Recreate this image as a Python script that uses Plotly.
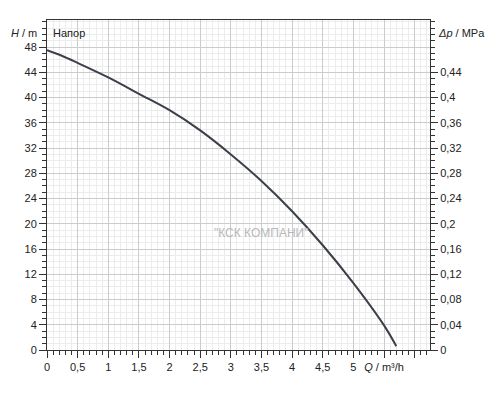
import plotly.graph_objects as go

q = [0, 0.25, 0.5, 1.0, 1.5, 2.0, 2.5, 3.0, 3.5, 4.0, 4.5, 5.0, 5.5, 5.7]
h = [47.5, 46.6, 45.5, 43.2, 40.6, 38.0, 34.8, 31.0, 26.8, 22.0, 16.6, 10.6, 3.9, 0.6]
xticks = [0, 0.5, 1, 1.5, 2, 2.5, 3, 3.5, 4, 4.5, 5, 5.5, 6]
xlabels = ["0", "0,5", "1", "1,5", "2", "2,5", "3", "3,5", "4", "4,5", "5", "<i>Q</i> / m³/h", ""]
yticks = list(range(0, 49, 4))
pticks = [round(v * 0.01, 2) for v in range(0, 45, 4)]
plabels = ["0" if v == 0 else ("%g" % v).replace(".", ",") for v in pticks]

fig = go.Figure()
fig.add_trace(go.Scatter(x=q, y=h, mode="lines", line=dict(color="#3a3f48", width=2, shape="spline"), showlegend=False))
fig.add_trace(go.Scatter(x=[None], y=[None], yaxis="y2", showlegend=False))
font = dict(family="Liberation Sans, Arial", size=11, color="#222")
fig.update_layout(
    width=484, height=384, margin=dict(l=39, r=62, t=12, b=42),
    paper_bgcolor="white", plot_bgcolor="white", font=font,
    xaxis=dict(range=[0, 6.25], tickvals=xticks, ticktext=xlabels, showgrid=True, gridcolor="#cccccc", gridwidth=1, automargin=False,
               minor=dict(dtick=0.1, showgrid=True, gridcolor="#ececec", ticks="outside", ticklen=4, tickcolor="#333"),
               ticks="outside", ticklen=7, tickcolor="#333", showline=True, linecolor="#333", mirror=True, zeroline=False),
    yaxis=dict(range=[0, 52.3], tickvals=yticks, showgrid=True, gridcolor="#cccccc", automargin=False,
               minor=dict(dtick=1, showgrid=True, gridcolor="#ececec", ticks="outside", ticklen=4, tickcolor="#333"),
               ticks="outside", ticklen=7, tickcolor="#333", showline=True, linecolor="#333", zeroline=False),
    yaxis2=dict(range=[0, 0.523], overlaying="y", side="right", tickvals=pticks, ticktext=plabels, automargin=False,
                minor=dict(dtick=0.01, ticks="outside", ticklen=4, tickcolor="#333"),
                ticks="outside", ticklen=7, tickcolor="#333", showline=True, linecolor="#333", showgrid=False, zeroline=False),
    annotations=[
        dict(x=0.01, y=0.985, xref="paper", yref="paper", text="Напор", showarrow=False, xanchor="left", yanchor="top", font=font),
        dict(x=-0.02, y=50.3, xref="paper", yref="y", text="<i>H</i> / m", showarrow=False, xanchor="right", font=font),
        dict(x=1.015, y=50.3, xref="paper", yref="y", text="<i>Δp</i> / MPa", showarrow=False, xanchor="left", font=font),
        dict(x=3.5, y=18.5, text="\"КСК КОМПАНИ\"", showarrow=False, font=dict(family="Liberation Sans", size=12, color="#b8b8b8")),
    ],
)
fig.write_html("out.html")
